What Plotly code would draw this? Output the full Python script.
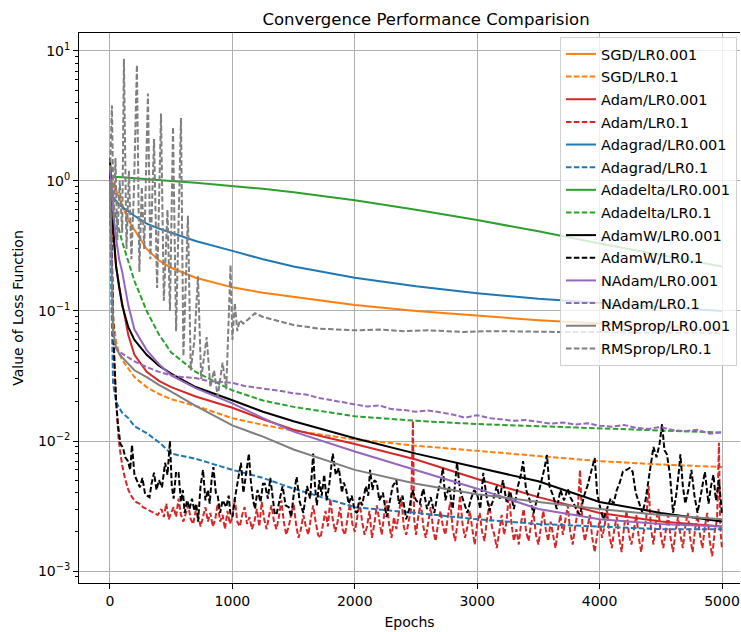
import plotly.graph_objects as go

# ---------------- data ----------------
epochs_smooth = [0, 10, 25, 50, 75, 100, 150, 200, 300, 400, 500, 700, 1000,
                 1250, 1500, 2000, 2500, 3000, 3500, 4000, 4500, 5000]

sgd_lr0001 = [1.05, 1.0, 0.95, 0.85, 0.74, 0.65, 0.5, 0.42, 0.3, 0.245, 0.215, 0.18, 0.152,
              0.138, 0.128, 0.111, 0.1, 0.092, 0.085, 0.08, 0.076, 0.073]
sgd_lr01 = [1.0, 0.3, 0.09, 0.058, 0.047, 0.042, 0.036, 0.031, 0.026, 0.023, 0.021, 0.0186, 0.015,
            0.0133, 0.012, 0.0103, 0.0092, 0.0084, 0.0076, 0.007, 0.0066, 0.0063]
adam_lr0001 = [1.2, 0.7, 0.4, 0.22, 0.15, 0.115, 0.065, 0.046, 0.034, 0.029, 0.026, 0.022, 0.018,
               0.0147, 0.0122, 0.0095, 0.0072, 0.0051, 0.0037, 0.0028, 0.0024, 0.0022]
adagrad_lr0001 = [0.9, 0.8, 0.75, 0.7, 0.66, 0.63, 0.58, 0.54, 0.47, 0.43, 0.4, 0.345, 0.29,
                  0.25, 0.22, 0.18, 0.155, 0.137, 0.124, 0.115, 0.107, 0.1]
adagrad_lr01 = [1.0, 0.15, 0.028, 0.02, 0.018, 0.0165, 0.015, 0.013, 0.0115, 0.0098, 0.008, 0.0073, 0.006,
                0.0052, 0.0043, 0.0031, 0.0028, 0.0025, 0.0023, 0.0022, 0.0021, 0.0021]
adadelta_lr0001 = [1.08, 1.08, 1.08, 1.075, 1.07, 1.07, 1.06, 1.05, 1.04, 1.02, 1.0, 0.97, 0.92,
                   0.87, 0.82, 0.71, 0.6, 0.5, 0.41, 0.33, 0.27, 0.22]
adadelta_lr01 = [1.0, 0.85, 0.7, 0.52, 0.42, 0.34, 0.24, 0.17, 0.1, 0.066, 0.048, 0.034, 0.0245,
                 0.0205, 0.0183, 0.0155, 0.0143, 0.0135, 0.013, 0.0125, 0.012, 0.0116]
adamw_lr0001 = [1.5, 0.9, 0.45, 0.22, 0.15, 0.11, 0.075, 0.06, 0.046, 0.038, 0.033, 0.026, 0.0206,
                0.0168, 0.0142, 0.0105, 0.008, 0.0063, 0.0049, 0.0034, 0.0028, 0.0024]
nadam_lr0001 = [1.3, 0.9, 0.6, 0.36, 0.25, 0.2, 0.11, 0.072, 0.05, 0.039, 0.032, 0.0255, 0.0195,
                0.015, 0.0118, 0.0083, 0.006, 0.0043, 0.003, 0.0025, 0.0023, 0.0022]
rmsprop_lr0001 = [1.0, 0.3, 0.07, 0.052, 0.047, 0.044, 0.039, 0.035, 0.031, 0.027, 0.024, 0.0186, 0.0132,
                  0.0108, 0.0086, 0.006, 0.0047, 0.0039, 0.0034, 0.003, 0.0027, 0.0025]

nadam_lr01_epochs = [0, 10, 25, 40, 60, 100, 150, 200, 300, 400, 500, 600, 700, 800, 900, 1000,
                     1100, 1200, 1300, 1400, 1500, 1600, 1700, 1800, 1900, 2000, 2100, 2200, 2300,
                     2400, 2500, 2600, 2700, 2800, 2900, 3000, 3100, 3200, 3300, 3400, 3500, 3600,
                     3700, 3800, 3900, 4000, 4100, 4200, 4300, 4400, 4500, 4600, 4700, 4800, 4900, 4999]
nadam_lr01 = [1.0, 0.3, 0.07, 0.055, 0.05, 0.047, 0.044, 0.041, 0.037, 0.034, 0.032, 0.031, 0.0305, 0.029,
              0.0285, 0.028, 0.0265, 0.0258, 0.025, 0.0242, 0.0233, 0.0228, 0.0215, 0.0207, 0.0198,
              0.0192, 0.0184, 0.0188, 0.0176, 0.0173, 0.0168, 0.0172, 0.0165, 0.0160, 0.0151, 0.0158,
              0.0150, 0.0147, 0.0143, 0.0145, 0.0140, 0.0136, 0.0139, 0.0134, 0.0137, 0.0131, 0.0129,
              0.0133, 0.0126, 0.0124, 0.0128, 0.0121, 0.0119, 0.0122, 0.0114, 0.0117]

rmsprop_lr01_epochs = [0, 16, 30, 45, 60, 80, 100, 114, 135, 155, 175, 195, 220, 240, 260, 280, 310,
                       330, 360, 385, 417, 440, 470, 490, 515, 540, 580, 600, 637, 660, 690, 719, 745,
                       790, 820, 850, 880, 920, 950, 975, 985, 1000, 1020, 1040, 1060, 1090, 1185,
                       1250, 1390, 1500, 1716, 2000, 2200, 2400, 2600, 2885, 3100, 3400, 3660, 4000,
                       4300, 4600, 4999]
rmsprop_lr01 = [1.2, 3.8, 0.5, 1.5, 0.35, 1.0, 0.4, 8.7, 0.3, 1.2, 0.25, 0.8, 7.8, 0.2, 0.9, 0.3, 4.7,
                0.25, 2.1, 0.15, 3.3, 0.12, 0.6, 0.1, 2.6, 0.07, 3.05, 0.045, 0.54, 0.035, 0.06, 0.185,
                0.03, 0.063, 0.026, 0.035, 0.022, 0.04, 0.025, 0.1, 0.226, 0.06, 0.115, 0.07, 0.085,
                0.08, 0.096, 0.09, 0.083, 0.078, 0.073, 0.071, 0.072, 0.07, 0.071, 0.069, 0.07, 0.069,
                0.069, 0.069, 0.068, 0.068, 0.068]

adamw_lr01_epochs = [0, 15, 30, 50, 65, 85, 106, 125, 147, 165, 180, 200, 225, 245, 265, 285, 305, 323,
                     340, 360, 380, 400, 425, 440, 450, 470, 490, 505, 520, 540, 560, 580, 595, 610,
                     630, 650, 670, 690, 705, 720, 740, 760, 780, 800, 815, 830, 845, 865, 880, 900,
                     920, 950, 970, 985, 1000, 1020, 1045, 1070, 1090, 1110, 1135, 1150, 1170, 1185,
                     1205, 1230, 1250, 1265, 1290, 1310, 1330, 1345, 1360, 1385, 1410, 1435, 1460,
                     1480, 1500, 1525, 1550, 1580, 1610, 1635, 1660, 1675, 1690, 1710, 1730, 1750,
                     1770, 1790, 1820, 1845, 1870, 1895, 1910, 1930, 1950, 1975, 2000, 2018, 2040,
                     2060, 2090, 2110, 2125, 2145, 2160, 2180, 2200, 2230, 2260, 2285, 2310, 2340,
                     2360, 2390, 2420, 2445, 2470, 2500, 2530, 2560, 2590, 2620, 2650, 2680, 2700,
                     2720, 2740, 2770, 2800, 2835, 2860, 2890, 2920, 2950, 2975, 3000, 3025, 3050,
                     3075, 3100, 3130, 3160, 3185, 3210, 3240, 3270, 3300, 3330, 3355, 3375, 3400,
                     3430, 3460, 3490, 3520, 3550, 3570, 3590, 3620, 3650, 3680, 3710, 3740, 3760,
                     3790, 3815, 3840, 3870, 3900, 3930, 3960, 3980, 4000, 4030, 4060, 4090, 4115,
                     4140, 4165, 4190, 4220, 4245, 4270, 4295, 4320, 4350, 4375, 4400, 4420, 4440,
                     4465, 4490, 4510, 4530, 4550, 4575, 4600, 4625, 4645, 4660, 4680, 4700, 4725,
                     4750, 4775, 4800, 4830, 4860, 4890, 4910, 4930, 4950, 4975, 4999]
adamw_lr01 = [1.5, 0.3, 0.06, 0.02, 0.0135, 0.0095, 0.0089, 0.0075, 0.007, 0.006, 0.0093, 0.0055, 0.0048,
              0.0044, 0.0052, 0.004, 0.0038, 0.0037, 0.0047, 0.0057, 0.0042, 0.005, 0.0044, 0.0062,
              0.0068, 0.0055, 0.01, 0.0045, 0.0036, 0.0058, 0.0057, 0.0034, 0.0042, 0.0028, 0.0035,
              0.003, 0.0036, 0.0029, 0.0033, 0.0024, 0.0045, 0.006, 0.0035, 0.0042, 0.0033, 0.005,
              0.0063, 0.004, 0.0038, 0.0028, 0.0035, 0.0031, 0.0038, 0.0027, 0.0026, 0.0036, 0.0048,
              0.0068, 0.004, 0.0055, 0.008, 0.005, 0.0035, 0.003, 0.0042, 0.0034, 0.0047, 0.0047,
              0.0036, 0.0052, 0.0038, 0.0028, 0.0027, 0.0035, 0.0045, 0.0032, 0.0031, 0.0026, 0.0038,
              0.0053, 0.0034, 0.0028, 0.0045, 0.0036, 0.008, 0.0045, 0.0032, 0.005, 0.0038, 0.0055,
              0.0035, 0.0045, 0.008, 0.0055, 0.0062, 0.004, 0.0048, 0.0042, 0.0033, 0.0038, 0.0029,
              0.0028, 0.0037, 0.0032, 0.0045, 0.0038, 0.006, 0.0042, 0.005, 0.0048, 0.0035, 0.004,
              0.0026, 0.0034, 0.0045, 0.005, 0.0033, 0.0038, 0.0025, 0.003, 0.0042, 0.0035, 0.0033,
              0.0043, 0.003, 0.0037, 0.0028, 0.0041, 0.0048, 0.0062, 0.0035, 0.0045, 0.003, 0.0068,
              0.0042, 0.0034, 0.0028, 0.0036, 0.0042, 0.0039, 0.003, 0.0057, 0.0038, 0.0029, 0.0035,
              0.0045, 0.0036, 0.005, 0.0034, 0.0041, 0.003, 0.0044, 0.0054, 0.007, 0.0042, 0.0035,
              0.0028, 0.0036, 0.0047, 0.0062, 0.0078, 0.0045, 0.0038, 0.003, 0.0042, 0.0035, 0.0043,
              0.0037, 0.0033, 0.0029, 0.0027, 0.0037, 0.0045, 0.0058, 0.0074, 0.004, 0.0032, 0.0025,
              0.003, 0.0036, 0.0033, 0.0042, 0.0048, 0.0058, 0.006, 0.0062, 0.0058, 0.004, 0.0034,
              0.0028, 0.0035, 0.005, 0.0065, 0.009, 0.0075, 0.0095, 0.0135, 0.0085, 0.0079, 0.0055,
              0.0028, 0.0038, 0.0055, 0.0079, 0.0045, 0.0033, 0.0042, 0.006, 0.0038, 0.0028, 0.004,
              0.0058, 0.0033, 0.0045, 0.0055, 0.0035, 0.005, 0.0028]

adam_lr01_epochs = [0, 15, 30, 45, 57, 70, 82, 100, 122, 150, 180, 210, 240, 270, 300, 330, 360, 390,
                    420, 440, 460, 480, 500, 520, 540, 560, 580, 600, 620, 640, 660, 680, 700, 720,
                    740, 760, 780, 800, 820, 840, 860, 880, 900, 920, 940, 960, 980, 1000, 1020, 1040,
                    1060, 1080, 1100, 1120, 1140, 1160, 1180, 1200, 1220, 1240, 1260, 1280, 1300,
                    1320, 1340, 1360, 1380, 1400, 1420, 1440, 1460, 1480, 1500, 1520, 1540, 1560,
                    1580, 1600, 1620, 1640, 1660, 1680, 1700, 1720, 1740, 1760, 1780, 1800, 1820,
                    1840, 1860, 1880, 1900, 1920, 1940, 1960, 1980, 2000, 2020, 2040, 2060, 2080,
                    2100, 2120, 2140, 2160, 2180, 2200, 2220, 2240, 2260, 2280, 2300, 2320, 2340,
                    2360, 2380, 2400, 2420, 2440, 2460, 2475, 2485, 2500, 2520, 2540, 2560, 2580,
                    2600, 2620, 2640, 2660, 2680, 2700, 2720, 2740, 2760, 2780, 2800, 2820, 2840,
                    2860, 2880, 2900, 2920, 2940, 2960, 2980, 3000, 3020, 3040, 3060, 3080, 3100,
                    3120, 3140, 3160, 3180, 3200, 3220, 3240, 3260, 3280, 3300, 3320, 3340, 3360,
                    3380, 3400, 3420, 3440, 3460, 3480, 3500, 3520, 3540, 3560, 3580, 3600, 3620,
                    3640, 3660, 3680, 3700, 3720, 3740, 3760, 3780, 3800, 3820, 3840, 3860, 3880,
                    3900, 3920, 3940, 3960, 3980, 4000, 4020, 4040, 4060, 4080, 4100, 4120, 4140,
                    4160, 4180, 4200, 4220, 4240, 4260, 4280, 4300, 4320, 4340, 4360, 4380, 4400,
                    4420, 4440, 4460, 4480, 4500, 4520, 4540, 4560, 4580, 4600, 4620, 4640, 4660,
                    4680, 4700, 4720, 4740, 4760, 4780, 4800, 4820, 4840, 4860, 4880, 4900, 4920,
                    4940, 4960, 4975, 4985, 4999]
adam_lr01 = [1.0, 0.2, 0.05, 0.025, 0.015, 0.0105, 0.0085, 0.0065, 0.0052, 0.0042, 0.0037, 0.0034,
             0.0033, 0.0031, 0.003, 0.0029, 0.0028, 0.0027, 0.003, 0.0026, 0.0033, 0.0025, 0.0028,
             0.0031, 0.0026, 0.0036, 0.0027, 0.0024, 0.0028, 0.0032, 0.0025, 0.0023, 0.0029, 0.0027,
             0.0022, 0.0026, 0.0031, 0.0024, 0.0028, 0.0022, 0.0025, 0.0033, 0.0024, 0.0027, 0.0021,
             0.0029, 0.0023, 0.0026, 0.0036, 0.0024, 0.0022, 0.0027, 0.0031, 0.0023, 0.0026, 0.0021,
             0.0024, 0.003, 0.0022, 0.0034, 0.0025, 0.0021, 0.0027, 0.0032, 0.0024, 0.0021, 0.0026,
             0.0035, 0.0024, 0.0019, 0.0022, 0.0027, 0.0033, 0.0023, 0.0018, 0.0021, 0.0027, 0.0022,
             0.0019, 0.0025, 0.0032, 0.0024, 0.0019, 0.0018, 0.0023, 0.0029, 0.0022, 0.0036, 0.0025,
             0.002, 0.0024, 0.0031, 0.0021, 0.0019, 0.0025, 0.0033, 0.0023, 0.002, 0.0026, 0.0034,
             0.0024, 0.0019, 0.0022, 0.0029, 0.0018, 0.0023, 0.0032, 0.0025, 0.0019, 0.0027, 0.0035,
             0.0023, 0.0018, 0.0026, 0.0021, 0.0028, 0.0037, 0.0022, 0.0019, 0.0024, 0.003, 0.0143,
             0.0025, 0.0019, 0.0027, 0.0033, 0.0022, 0.0018, 0.0024, 0.0031, 0.0021, 0.0017, 0.0023,
             0.0029, 0.0022, 0.0019, 0.0026, 0.0034, 0.0021, 0.0017, 0.0024, 0.0038, 0.0023, 0.0018,
             0.0022, 0.0029, 0.0021, 0.0016, 0.0023, 0.0028, 0.002, 0.0017, 0.0025, 0.0033, 0.0022,
             0.0019, 0.0015, 0.0021, 0.0027, 0.0019, 0.0024, 0.0041, 0.0023, 0.0017, 0.0021, 0.0016,
             0.0024, 0.003, 0.002, 0.0017, 0.0023, 0.0028, 0.0019, 0.0016, 0.0022, 0.0029, 0.0021,
             0.0017, 0.0024, 0.0019, 0.0015, 0.0021, 0.0027, 0.0019, 0.0024, 0.0032, 0.002, 0.0016,
             0.0022, 0.0028, 0.006, 0.0022, 0.0017, 0.0021, 0.0027, 0.0018, 0.0014, 0.0019, 0.0025,
             0.0018, 0.0022, 0.003, 0.0019, 0.0015, 0.0021, 0.0026, 0.0018, 0.0014, 0.0022, 0.0029,
             0.0019, 0.0016, 0.0021, 0.0027, 0.0018, 0.0014, 0.002, 0.0025, 0.0045, 0.0021, 0.0016,
             0.0024, 0.003, 0.0019, 0.0015, 0.0021, 0.0027, 0.0018, 0.0014, 0.002, 0.0026, 0.0019,
             0.0015, 0.0022, 0.0028, 0.0018, 0.0014, 0.0021, 0.0027, 0.0019, 0.0015, 0.0022, 0.0028,
             0.0017, 0.0013, 0.002, 0.0025, 0.0097, 0.0022, 0.0015]

x_ticks = [0, 1000, 2000, 3000, 4000, 5000]
y_ticks = [1e-3, 1e-2, 1e-1, 1e0, 1e1]
y_tick_labels = ["10<sup>−3</sup>", "10<sup>−2</sup>", "10<sup>−1</sup>", "10<sup>0</sup>", "10<sup>1</sup>"]

# ---------------- styling ----------------
ORANGE, RED, BLUE, GREEN = "#ff7f0e", "#d62728", "#1f77b4", "#2ca02c"
BLACK, PURPLE, GRAY = "#000000", "#9467bd", "#7f7f7f"
DASH = "5.5px,2.4px"

series = [
    ("SGD/LR0.001", epochs_smooth, sgd_lr0001, ORANGE, "solid"),
    ("SGD/LR0.1", epochs_smooth, sgd_lr01, ORANGE, DASH),
    ("Adam/LR0.001", epochs_smooth, adam_lr0001, RED, "solid"),
    ("Adam/LR0.1", adam_lr01_epochs, adam_lr01, RED, DASH),
    ("Adagrad/LR0.001", epochs_smooth, adagrad_lr0001, BLUE, "solid"),
    ("Adagrad/LR0.1", epochs_smooth, adagrad_lr01, BLUE, DASH),
    ("Adadelta/LR0.001", epochs_smooth, adadelta_lr0001, GREEN, "solid"),
    ("Adadelta/LR0.1", epochs_smooth, adadelta_lr01, GREEN, DASH),
    ("AdamW/LR0.001", epochs_smooth, adamw_lr0001, BLACK, "solid"),
    ("AdamW/LR0.1", adamw_lr01_epochs, adamw_lr01, BLACK, DASH),
    ("NAdam/LR0.001", epochs_smooth, nadam_lr0001, PURPLE, "solid"),
    ("NAdam/LR0.1", nadam_lr01_epochs, nadam_lr01, PURPLE, DASH),
    ("RMSprop/LR0.001", epochs_smooth, rmsprop_lr0001, GRAY, "solid"),
    ("RMSprop/LR0.1", rmsprop_lr01_epochs, rmsprop_lr01, GRAY, DASH),
]

fig = go.Figure()
for i, (name, xs, ys, color, dash) in enumerate(series):
    fig.add_trace(go.Scatter(x=xs, y=ys, mode="lines", name=name, legendgroup=f"g{i}",
                             line=dict(color=color, width=2, dash=dash)))

minor_vals = [k * 10.0 ** e for e in range(-4, 2) for k in range(2, 10)]

fig.update_layout(
    width=741, height=632,
    margin=dict(l=79, r=1, t=33, b=49, autoexpand=False),
    paper_bgcolor="white", plot_bgcolor="white",
    font=dict(family="DejaVu Sans", size=14, color="black"),
    title=dict(text="Convergence Performance Comparision", x=426 / 741, xanchor="center",
               y=1 - 19 / 632, yanchor="middle", font=dict(size=16.5)),
    legend=dict(x=(560 - 79) / 661, y=(583 - 37) / 550, xanchor="left", yanchor="top",
                bgcolor="rgba(255,255,255,0.8)", bordercolor="#d0d0d0", borderwidth=1,
                font=dict(size=14.5), tracegroupgap=0.8, itemwidth=30),
    showlegend=True,
)
fig.update_xaxes(range=[-253, 5147], tickvals=x_ticks, ticks="outside", ticklen=5,
                 tickcolor="black", showline=True, linecolor="black", linewidth=1, mirror=True,
                 showgrid=True, gridcolor="#b0b0b0", gridwidth=1, zeroline=False, automargin=False,
                 title=dict(text="Epochs", standoff=9, font=dict(size=14)))
fig.update_yaxes(type="log", range=[-3.092, 1.138], tickvals=y_ticks, ticktext=y_tick_labels,
                 ticks="outside", ticklen=5, tickcolor="black", showline=True, linecolor="black",
                 linewidth=1, showgrid=True, gridcolor="#b0b0b0", gridwidth=1, zeroline=False,
                 automargin=False,
                 minor=dict(tickvals=minor_vals, ticks="outside", ticklen=3, tickcolor="black",
                            showgrid=False),
                 title=dict(text="Value of Loss Function", standoff=11, font=dict(size=14)))

fig.write_html("out.html", config={"displayModeBar": False},
               post_script="document.body.style.margin='0px';")
